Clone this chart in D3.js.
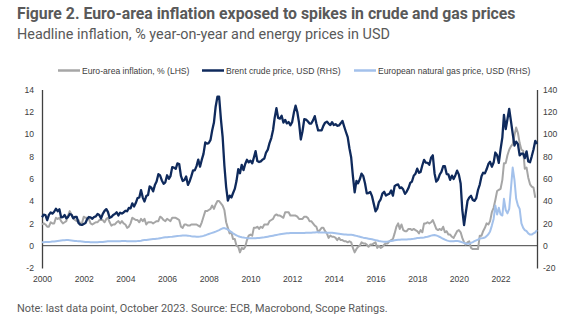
<!DOCTYPE html>
<html>
<head>
<meta charset="utf-8">
<style>
  body { margin: 0; background: #fff; }
  .title { font-family: Roboto, sans-serif; font-weight: 700; font-size: 15.8px; fill: #595959; }
  .subtitle { font-family: Roboto, sans-serif; font-size: 14.4px; fill: #595959; }
  .note { font-family: Roboto, sans-serif; font-size: 10.9px; fill: #595959; }
  .legend text { font-family: "Liberation Sans", Arial, sans-serif; font-size: 8.6px; fill: #404040; }
  .axis text { font-family: "Liberation Sans", Arial, sans-serif; font-size: 8.6px; fill: #404040; }
</style>
</head>
<body>
<svg id="chart" width="569" height="321"></svg>
<script src="https://cdnjs.cloudflare.com/ajax/libs/d3/7.8.5/d3.min.js"></script>
<script>
// monthly values starting January 2000
const startYear = 2000;

// Euro-area HICP inflation, % y/y (LHS), Jan 2000 - Sep 2023
const inflation = [
  1.9, 2.0, 1.9, 1.7, 1.7, 2.1, 2.0, 2.0, 2.5, 2.4, 2.5, 2.2,
  2.0, 2.1, 2.2, 2.7, 3.1, 2.8, 2.5, 2.3, 2.2, 2.3, 2.0, 2.0,
  2.6, 2.5, 2.5, 2.4, 2.0, 1.9, 2.0, 2.1, 2.1, 2.3, 2.3, 2.3,
  2.1, 2.4, 2.5, 2.1, 1.8, 1.9, 1.9, 2.1, 2.2, 2.0, 2.2, 2.0,
  1.9, 1.6, 1.7, 2.0, 2.5, 2.4, 2.3, 2.3, 2.1, 2.4, 2.2, 2.4,
  1.9, 2.1, 2.1, 2.1, 2.0, 2.1, 2.2, 2.2, 2.6, 2.5, 2.3, 2.2,
  2.4, 2.3, 2.2, 2.5, 2.5, 2.5, 2.4, 2.3, 1.7, 1.6, 1.9, 1.9,
  1.8, 1.8, 1.9, 1.9, 1.9, 1.9, 1.8, 1.7, 2.1, 2.6, 3.1, 3.1,
  3.2, 3.3, 3.6, 3.3, 3.7, 4.0, 4.0, 3.8, 3.6, 3.2, 2.1, 1.6,
  1.1, 1.2, 0.6, 0.6, 0.0, -0.1, -0.6, -0.2, -0.3, -0.1, 0.5, 0.9,
  1.0, 0.9, 1.6, 1.6, 1.7, 1.5, 1.7, 1.6, 1.9, 1.9, 1.9, 2.2,
  2.3, 2.4, 2.7, 2.8, 2.7, 2.7, 2.6, 2.5, 3.0, 3.0, 3.0, 2.7,
  2.7, 2.7, 2.7, 2.6, 2.4, 2.4, 2.4, 2.6, 2.6, 2.5, 2.2, 2.2,
  2.0, 1.8, 1.7, 1.2, 1.4, 1.6, 1.6, 1.3, 1.1, 0.7, 0.9, 0.8,
  0.8, 0.7, 0.5, 0.7, 0.5, 0.5, 0.4, 0.4, 0.3, 0.4, 0.3, -0.2,
  -0.6, -0.3, -0.1, 0.0, 0.3, 0.2, 0.2, 0.1, -0.1, 0.1, 0.1, 0.2,
  0.3, -0.2, 0.0, -0.2, -0.1, 0.1, 0.2, 0.2, 0.4, 0.5, 0.6, 1.1,
  1.7, 2.0, 1.5, 1.9, 1.4, 1.3, 1.3, 1.5, 1.5, 1.4, 1.5, 1.4,
  1.3, 1.1, 1.4, 1.2, 2.0, 2.0, 2.1, 2.0, 2.1, 2.3, 1.9, 1.5,
  1.4, 1.5, 1.4, 1.7, 1.2, 1.3, 1.0, 1.0, 0.8, 0.7, 1.0, 1.3,
  1.4, 1.2, 0.7, 0.3, 0.1, 0.3, 0.4, -0.2, -0.3, -0.3, -0.3, -0.3,
  0.9, 0.9, 1.3, 1.6, 2.0, 1.9, 2.2, 3.0, 3.4, 4.1, 4.9, 5.0,
  5.1, 5.9, 7.4, 7.4, 8.1, 8.6, 8.9, 9.1, 9.9, 10.6, 10.1, 9.2,
  8.6, 8.5, 6.9, 7.0, 6.1, 5.5, 5.3, 5.2, 4.3
];

// Brent crude price, USD (RHS), Jan 2000 - Oct 2023
const brent = [
  25.5, 27.8, 27.5, 22.8, 27.6, 29.8, 28.7, 30.4, 33.1, 30.9, 32.6, 25.5,
  25.6, 27.5, 24.5, 25.7, 28.4, 27.7, 24.5, 25.8, 25.7, 20.5, 18.9, 18.6,
  19.5, 20.3, 23.7, 25.7, 25.4, 24.1, 25.7, 26.3, 28.4, 27.5, 24.4, 28.5,
  31.2, 32.8, 30.3, 25.0, 25.8, 27.6, 28.4, 29.9, 27.1, 29.6, 28.8, 29.8,
  31.3, 30.9, 33.8, 33.4, 37.9, 35.2, 38.2, 42.7, 43.2, 49.8, 43.1, 39.6,
  44.5, 45.5, 53.1, 51.9, 48.7, 54.3, 57.6, 64.1, 62.9, 58.5, 55.5, 56.8,
  63.1, 59.9, 62.3, 70.4, 70.0, 68.9, 73.7, 73.2, 62.5, 58.0, 58.8, 62.0,
  54.5, 57.8, 62.1, 67.5, 67.5, 71.3, 77.2, 70.8, 77.1, 82.3, 92.5, 91.5,
  92.0, 94.8, 103.3, 110.4, 124.6, 133.5, 133.5, 113.4, 97.0, 71.9, 52.5, 40.4,
  44.9, 43.2, 47.0, 50.9, 57.9, 68.6, 64.9, 72.5, 67.7, 73.2, 77.0, 74.7,
  76.2, 73.8, 78.8, 84.8, 75.9, 75.0, 75.6, 77.1, 78.2, 83.5, 86.1, 92.0,
  96.5, 103.7, 114.6, 123.3, 114.5, 113.9, 116.5, 110.4, 112.8, 109.6, 110.8, 107.9,
  110.7, 119.3, 125.5, 119.8, 110.3, 95.2, 102.6, 113.4, 113.0, 111.5, 109.5, 109.5,
  112.3, 116.1, 109.5, 103.3, 103.3, 103.3, 107.4, 110.3, 111.2, 109.5, 108.1, 110.7,
  108.1, 108.9, 107.5, 107.8, 109.7, 111.9, 106.8, 101.9, 97.3, 87.3, 79.0, 62.3,
  47.8, 58.1, 55.9, 59.5, 64.6, 62.3, 55.9, 47.0, 47.2, 48.1, 44.4, 37.7,
  30.8, 33.2, 39.1, 41.6, 46.7, 48.3, 44.9, 45.8, 46.6, 49.5, 44.8, 53.3,
  54.6, 54.9, 51.6, 52.3, 50.3, 46.4, 48.5, 51.7, 56.2, 57.5, 62.7, 64.4,
  69.1, 65.3, 66.0, 72.1, 76.9, 74.4, 74.3, 72.5, 78.9, 81.0, 64.8, 57.4,
  59.4, 64.0, 66.1, 71.2, 71.3, 64.2, 63.9, 59.0, 62.8, 59.7, 63.2, 67.3,
  63.7, 55.7, 32.0, 18.4, 29.4, 40.3, 43.2, 44.7, 40.9, 40.2, 42.7, 49.9,
  54.8, 62.3, 65.4, 64.8, 68.5, 73.2, 75.2, 70.8, 74.5, 83.5, 81.1, 74.2,
  86.5, 97.1, 117.3, 104.6, 113.3, 122.7, 111.9, 100.5, 89.8, 93.3, 91.1, 80.9,
  82.5, 82.6, 78.5, 84.6, 75.5, 74.8, 80.1, 86.2, 94.0, 91.1
];

// European natural gas price, USD (RHS), Jan 2000 - Oct 2023
const gas = [
  3.0, 3.1, 3.2, 3.3, 3.4, 3.5, 3.7, 3.8, 4.0, 4.2, 4.4, 4.6,
  4.8, 4.9, 5.0, 5.0, 4.9, 4.7, 4.5, 4.3, 4.1, 4.0, 3.9, 3.8,
  3.6, 3.4, 3.3, 3.2, 3.1, 3.0, 3.0, 3.0, 3.1, 3.2, 3.3, 3.4,
  3.6, 3.8, 3.9, 4.0, 4.0, 3.9, 3.9, 3.9, 4.0, 4.0, 4.1, 4.1,
  4.1, 4.0, 4.0, 3.9, 3.9, 3.9, 4.0, 4.1, 4.3, 4.5, 4.8, 5.0,
  5.2, 5.4, 5.6, 5.8, 5.9, 6.0, 6.2, 6.4, 6.7, 7.0, 7.3, 7.5,
  7.6, 7.8, 7.9, 8.0, 8.2, 8.4, 8.6, 8.8, 9.0, 9.1, 9.2, 9.2,
  9.0, 8.8, 8.5, 8.3, 8.2, 8.1, 8.1, 8.2, 8.4, 8.8, 9.3, 9.9,
  10.5, 11.0, 11.5, 12.0, 12.6, 13.3, 14.0, 14.8, 15.6, 15.8, 15.2, 14.4,
  13.3, 12.2, 11.1, 10.1, 9.2, 8.5, 8.0, 7.6, 7.3, 7.0, 6.8, 6.7,
  6.6, 6.6, 6.6, 6.7, 6.8, 6.9, 7.1, 7.3, 7.5, 7.8, 8.1, 8.4,
  8.7, 9.0, 9.3, 9.6, 9.9, 10.2, 10.5, 10.7, 10.9, 11.1, 11.2, 11.3,
  11.3, 11.3, 11.4, 11.4, 11.4, 11.4, 11.4, 11.4, 11.5, 11.5, 11.6, 11.7,
  11.8, 11.9, 12.0, 12.0, 11.9, 11.9, 11.8, 11.8, 11.7, 11.7, 11.6, 11.5,
  11.3, 11.1, 10.9, 10.7, 10.5, 10.3, 10.1, 10.0, 9.9, 9.8, 9.7, 9.6,
  9.2, 8.8, 8.4, 8.0, 7.6, 7.2, 6.9, 6.6, 6.3, 6.0, 5.7, 5.4,
  5.0, 4.6, 4.2, 3.9, 3.7, 3.6, 3.6, 3.7, 3.9, 4.2, 4.5, 4.8,
  5.1, 5.3, 5.4, 5.5, 5.5, 5.5, 5.6, 5.7, 5.8, 6.0, 6.2, 6.5,
  6.8, 7.0, 7.1, 7.2, 7.4, 7.7, 8.0, 8.5, 9.0, 9.4, 9.5, 9.2,
  8.6, 7.8, 7.0, 6.2, 5.5, 4.8, 4.3, 4.0, 3.9, 4.0, 4.2, 4.3,
  4.0, 3.5, 3.0, 2.5, 2.0, 1.8, 2.0, 2.5, 3.2, 4.0, 4.8, 5.5,
  6.5, 6.6, 6.9, 7.4, 8.6, 10.3, 12.8, 18.0, 24.0, 36.0, 28.0, 34.0,
  28.0, 27.0, 42.0, 32.0, 29.0, 33.0, 51.0, 70.0, 59.0, 42.0, 36.0, 33.0,
  20.0, 16.0, 14.0, 13.0, 11.0, 10.0, 10.0, 11.0, 12.0, 14.0
];

const yearTicks = d3.range(2000, 2023, 2);
const leftTicks = d3.range(-2, 15, 2);
const rightTicks = d3.range(-20, 141, 20);

const seriesList = [
  { name: "Euro-area inflation, % (LHS)", values: inflation, axis: "left", color: "#a6a6a6", width: 2, lx: 58 },
  { name: "Brent crude price, USD (RHS)", values: brent, axis: "right", color: "#0f2a5c", width: 2.3, lx: 202 },
  { name: "European natural gas price, USD (RHS)", values: gas, axis: "right", color: "#a3c1eb", width: 2, lx: 354 }
];

const svg = d3.select("#chart");
const plotLeft = 42, plotRight = 537, plotTop = 89.5, plotBottom = 268;

const x = d3.scaleTime()
  .domain([new Date(2000, 0, 1), new Date(2023, 9, 1)])
  .range([plotLeft, plotRight]);
const yL = d3.scaleLinear().domain([-2, 14]).range([plotBottom, plotTop]);
const yR = d3.scaleLinear().domain([-20, 140]).range([plotBottom, plotTop]);

// titles
svg.append("text").attr("class", "title").attr("x", 17).attr("y", 18.5)
  .text("Figure 2. Euro-area inflation exposed to spikes in crude and gas prices");
svg.append("text").attr("class", "subtitle").attr("x", 17).attr("y", 38.5)
  .text("Headline inflation, % year-on-year and energy prices in USD");
svg.append("text").attr("class", "note").attr("x", 17).attr("y", 312)
  .text("Note: last data point, October 2023. Source: ECB, Macrobond, Scope Ratings.");

// axes (plain hyphen for negatives, as in the source)
const fmt = d => String(d);
const axL = svg.append("g").attr("class", "axis")
  .attr("transform", `translate(${plotLeft},0)`)
  .call(d3.axisLeft(yL).tickValues(leftTicks).tickFormat(fmt).tickSize(0).tickPadding(8));
const axR = svg.append("g").attr("class", "axis")
  .attr("transform", `translate(${plotRight},0)`)
  .call(d3.axisRight(yR).tickValues(rightTicks).tickFormat(fmt).tickSize(0).tickPadding(6));
const axB = svg.append("g").attr("class", "axis")
  .attr("transform", `translate(0,${plotBottom})`)
  .call(d3.axisBottom(x).tickValues(yearTicks.map(yr => new Date(yr, 0, 1)))
    .tickFormat(d3.timeFormat("%Y")).tickSize(0).tickPadding(8));
axB.select(".domain").remove();
[axL, axR].forEach(a => a.select(".domain").attr("stroke", "#404040").attr("stroke-width", 1.3));

// zero line
svg.append("line")
  .attr("x1", plotLeft).attr("x2", plotRight)
  .attr("y1", yL(0)).attr("y2", yL(0))
  .attr("stroke", "#404040").attr("stroke-width", 1);

// series
seriesList.forEach(s => {
  const y = s.axis === "left" ? yL : yR;
  const line = d3.line()
    .x((d, i) => x(new Date(startYear, i, 1)))
    .y(d => y(d));
  svg.append("path")
    .datum(s.values)
    .attr("fill", "none")
    .attr("stroke", s.color)
    .attr("stroke-width", s.width)
    .attr("stroke-linejoin", "round")
    .attr("d", line);
});

// legend
const legend = svg.append("g").attr("class", "legend");
seriesList.forEach(s => {
  legend.append("line")
    .attr("x1", s.lx).attr("x2", s.lx + 22)
    .attr("y1", 70.5).attr("y2", 70.5)
    .attr("stroke", s.color).attr("stroke-width", 2.5);
  legend.append("text")
    .attr("x", s.lx + 24).attr("y", 73.5)
    .text(s.name);
});
</script>
</body>
</html>
